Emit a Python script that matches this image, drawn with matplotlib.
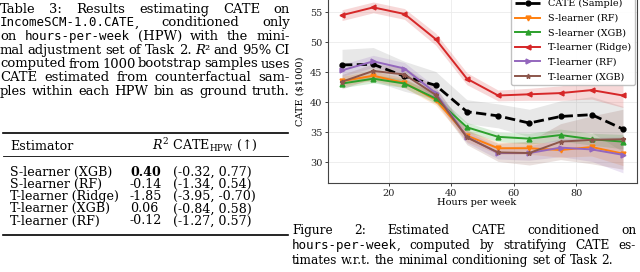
import numpy as np
import matplotlib
matplotlib.use("Agg")
import matplotlib.pyplot as plt

# estimated CATE per hours-per-week bin
hours = [5, 15, 25, 35, 45, 55, 65, 75, 85, 95]
cate_sample = [46.2, 46.3, 44.3, 42.8, 38.4, 37.7, 36.5, 37.6, 37.9, 35.5]
s_rf = [43.5, 44.4, 43.2, 40.4, 34.4, 32.3, 32.3, 32.0, 32.5, 31.4]
s_xgb = [43.1, 43.9, 43.1, 40.6, 35.8, 34.2, 33.9, 34.5, 33.8, 33.4]
t_ridge = [54.5, 55.8, 54.7, 50.5, 43.9, 41.1, 41.3, 41.5, 42.0, 41.1]
t_rf = [45.3, 46.8, 45.6, 41.5, 34.2, 31.5, 31.5, 32.4, 32.1, 31.2]
t_xgb = [43.4, 45.2, 44.6, 41.2, 34.1, 31.6, 31.5, 33.4, 33.7, 33.8]

# half widths of the shaded intervals
ci_sample = [2.6, 2.8, 2.5, 2.3, 2.0, 2.0, 2.3, 2.6, 3.0, 3.8]
ci_s_rf = [0.8, 0.8, 0.8, 0.9, 1.0, 1.0, 1.0, 1.2, 1.5, 2.0]
ci_s_xgb = [0.7, 0.7, 0.7, 0.8, 0.8, 0.8, 0.9, 1.0, 1.0, 1.2]
ci_t_ridge = [0.9, 0.9, 0.9, 1.0, 1.0, 0.9, 1.0, 1.2, 1.5, 2.0]
ci_t_rf = [1.0, 1.0, 1.0, 1.0, 1.0, 1.0, 1.2, 1.5, 2.0, 3.0]
ci_t_xgb = [1.2, 1.2, 1.2, 1.2, 1.2, 1.5, 2.0, 3.0, 4.0, 5.0]

# table 3
estimators = ["S-learner (XGB)", "S-learner (RF)", "T-learner (Ridge)",
              "T-learner (XGB)", "T-learner (RF)"]
r2 = ["0.40", "-0.14", "-1.85", "0.06", "-0.12"]
r2_ci = ["(-0.32, 0.77)", "(-1.34, 0.54)", "(-3.95, -0.70)",
         "(-0.84, 0.58)", "(-1.27, 0.57)"]

# ` toggles typewriter, * toggles italic
table_caption = [
    "Table 3:  Results estimating CATE on",
    "`IncomeSCM-1.0.CATE`, conditioned only",
    "on `hours-per-week` (HPW) with the mini-",
    "mal adjustment set of Task 2. *R*² and 95% CI",
    "computed from 1000 bootstrap samples uses",
    "CATE estimated from counterfactual sam-",
    "ples within each HPW bin as ground truth.",
]
fig_caption = [
    "Figure 2:  Estimated CATE conditioned on",
    "`hours-per-week`, computed by stratifying CATE es-",
    "timates w.r.t. the minimal conditioning set of Task 2.",
]

W, H = 640, 272
SERIF = ["DejaVu Serif"]
MONO = ["DejaVu Sans Mono"]
plt.rcParams["mathtext.fontset"] = "dejavuserif"

fig = plt.figure(figsize=(W / 100, H / 100), dpi=100)
renderer = fig.canvas.get_renderer()


def fx(px):
    return px / W


def fy(py):
    return 1 - py / H


def text_width(s, family, size, weight="normal"):
    t = fig.text(0, 0, s, family=family, size=size, weight=weight)
    w = t.get_window_extent(renderer).width
    t.remove()
    return w


def fit_size(s, target, family=SERIF):
    return 10 * target / text_width(s, family, 10)


MONO_SIZE = 9.0


def split_word(w):
    pieces, cur, mode = [], "", "n"
    for ch in w:
        if ch in "`*":
            if cur:
                pieces.append((cur, mode))
            cur = ""
            tog = "m" if ch == "`" else "i"
            mode = "n" if mode == tog else tog
        else:
            cur += ch
    if cur:
        pieces.append((cur, mode))
    return pieces


def put_line(line, x0, x1, base, size, justify=True):
    words = [split_word(w) for w in line.split()]
    placed = []
    widths = []
    for word in words:
        parts = []
        total = 0
        for s, mode in word:
            t = fig.text(0, fy(base), s, family=MONO if mode == "m" else SERIF,
                         size=MONO_SIZE if mode == "m" else size,
                         style="italic" if mode == "i" else "normal",
                         va="baseline")
            wd = t.get_window_extent(renderer).width
            parts.append((t, wd))
            total += wd
        placed.append(parts)
        widths.append(total)
    if justify and len(words) > 1:
        gap = (x1 - x0 - sum(widths)) / (len(words) - 1)
    else:
        gap = text_width("a a", SERIF, size) - text_width("aa", SERIF, size)
    x = x0
    for parts, wd in zip(placed, widths):
        xx = x
        for t, pw in parts:
            t.set_x(fx(xx))
            xx += pw
        x += wd + gap


# left column: table caption
cap_size = fit_size("ples within each HPW bin as ground truth.", 286)
for i, line in enumerate(table_caption):
    put_line(line, 0, 290, 12.7 + i * 13.7, cap_size)

# table rules
fig.add_artist(plt.Line2D([fx(3), fx(288)], [fy(133.5)] * 2, color="black", lw=1.2))
fig.add_artist(plt.Line2D([fx(3), fx(288)], [fy(156)] * 2, color="black", lw=0.6))
fig.add_artist(plt.Line2D([fx(3), fx(288)], [fy(235)] * 2, color="black", lw=1.2))

tsize = fit_size("T-learner (Ridge)", 110)
fig.text(fx(10), fy(150), "Estimator", family=SERIF, size=tsize, va="baseline")
fig.text(fx(152), fy(150), r"$R^2$ CATE$_{\mathrm{HPW}}$ (↑)", family=SERIF,
         size=tsize, va="baseline")
for i in range(len(estimators)):
    yb = fy(175.7 + i * 12.2)
    fig.text(fx(10), yb, estimators[i], family=SERIF, size=tsize, va="baseline")
    fig.text(fx(130), yb, r2[i], family=SERIF, size=tsize, va="baseline",
             weight="bold" if i == 0 else "normal")
    fig.text(fx(173), yb, r2_ci[i], family=SERIF, size=tsize, va="baseline")

# right column: figure caption
fcap_size = fit_size("timates w.r.t. the minimal conditioning set of Task 2.", 323)
for i, line in enumerate(fig_caption):
    put_line(line, 292, 636, 234 + i * 15.2, fcap_size, justify=(i < 2))

# chart
ax = fig.add_axes([fx(328), fy(183), fx(637) - fx(328), (183 + 7) / H])
series = [
    ("CATE (Sample)", cate_sample, ci_sample, "black", "o", "--"),
    ("S-learner (RF)", s_rf, ci_s_rf, "tab:orange", "v", "-"),
    ("S-learner (XGB)", s_xgb, ci_s_xgb, "tab:green", "^", "-"),
    ("T-learner (Ridge)", t_ridge, ci_t_ridge, "tab:red", "<", "-"),
    ("T-learner (RF)", t_rf, ci_t_rf, "tab:purple", ">", "-"),
    ("T-learner (XGB)", t_xgb, ci_t_xgb, "tab:brown", "*", "-"),
]
x = np.array(hours)
for label, vals, ci, color, marker, ls in series:
    v = np.array(vals)
    c = np.array(ci)
    ax.fill_between(x, v - c, v + c, color="gray" if color == "black" else color,
                    alpha=0.18, lw=0)
    ax.plot(x, v, ls=ls, marker=marker, ms=3.5, color=color,
            lw=2.0 if color == "black" else 1.4, label=label)

ax.set_xlim(0.5, 99.5)
ax.set_ylim(26.5, 58.2)
ax.set_xticks([20, 40, 60, 80])
ax.set_yticks([30, 35, 40, 45, 50, 55])
ax.grid(True, color="#ebebeb", lw=0.6)
ax.set_axisbelow(True)
for s in ax.spines.values():
    s.set_color("#444444")
    s.set_linewidth(0.8)
ax.tick_params(length=2, width=0.6, pad=2, labelsize=7, colors="#222222")
for lab in ax.get_xticklabels() + ax.get_yticklabels():
    lab.set_family(SERIF)
ax.set_xlabel("Hours per week", family=SERIF, size=7)
ax.set_ylabel("CATE (\\$1000)", family=SERIF, size=7)
ax.xaxis.set_label_coords(0.48, -0.08)
ax.yaxis.set_label_coords(-0.075, 0.48)
ax.legend(loc="upper right", prop={"family": SERIF, "size": 6.9},
          handlelength=2.6, labelspacing=0.58, framealpha=0.9,
          edgecolor="#bbbbbb", borderaxespad=0.25)

fig.savefig("out.png", dpi=100)
